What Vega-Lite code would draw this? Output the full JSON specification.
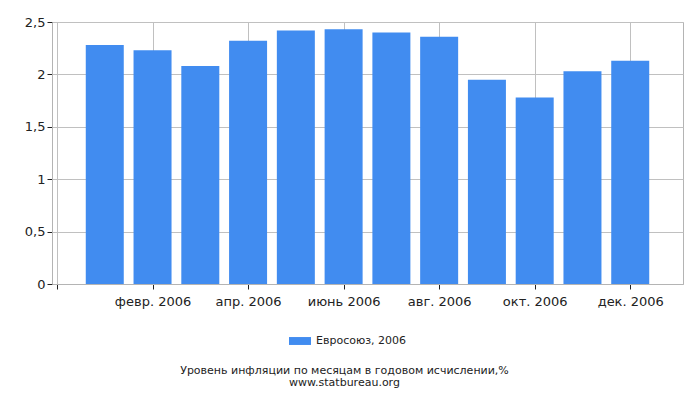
{
  "$schema": "https://vega.github.io/schema/vega-lite/v6.json",
  "width": 631,
  "height": 262,
  "autosize": "none",
  "padding": {"left": 52, "top": 22, "right": 17, "bottom": 116},
  "background": "white",
  "config": {
    "font": "DejaVu Sans",
    "view": {"stroke": "#b4b4b4", "strokeWidth": 1},
    "axis": {
      "labelFont": "DejaVu Sans",
      "labelFontSize": 13,
      "labelColor": "#222222",
      "gridColor": "#c0c0c0",
      "gridOpacity": 1,
      "domainColor": "#b4b4b4",
      "tickColor": "#222222",
      "tickSize": 5,
      "title": null
    }
  },
  "title": {
    "text": ["Уровень инфляции по месяцам в годовом исчислении,%", "www.statbureau.org"],
    "orient": "bottom",
    "anchor": "middle",
    "frame": "group",
    "dx": -23,
    "offset": 19,
    "font": "DejaVu Sans",
    "fontSize": 11,
    "fontWeight": "normal",
    "color": "#222222",
    "lineHeight": 12
  },
  "data": {
    "values": [
      {"month": 1, "value": 2.28},
      {"month": 2, "value": 2.23},
      {"month": 3, "value": 2.08},
      {"month": 4, "value": 2.32},
      {"month": 5, "value": 2.42},
      {"month": 6, "value": 2.43},
      {"month": 7, "value": 2.40},
      {"month": 8, "value": 2.36},
      {"month": 9, "value": 1.95},
      {"month": 10, "value": 1.78},
      {"month": 11, "value": 2.03},
      {"month": 12, "value": 2.13}
    ]
  },
  "mark": {"type": "bar", "size": 38},
  "encoding": {
    "x": {
      "field": "month",
      "type": "quantitative",
      "scale": {"domain": [0, 13], "nice": false, "zero": false},
      "axis": {
        "values": [0, 2, 4, 6, 8, 10, 12],
        "labelExpr": "['', 'янв. 2006', 'февр. 2006', 'март 2006', 'апр. 2006', 'май 2006', 'июнь 2006', 'июль 2006', 'авг. 2006', 'сент. 2006', 'окт. 2006', 'нояб. 2006', 'дек. 2006'][datum.value]",
        "labelPadding": 6,
        "labelFlush": false
      }
    },
    "y": {
      "field": "value",
      "type": "quantitative",
      "scale": {"domain": [0, 2.5], "nice": false},
      "axis": {
        "values": [0, 0.5, 1, 1.5, 2, 2.5],
        "labelExpr": "replace(toString(datum.value), '.', ',')",
        "labelPadding": 2
      }
    },
    "color": {
      "datum": "Евросоюз, 2006",
      "type": "nominal",
      "scale": {"range": ["#418CF0"]},
      "legend": {
        "title": null,
        "orient": "none",
        "legendX": 237,
        "legendY": 308,
        "symbolType": "M-1,-0.36L1,-0.36L1,0.36L-1,0.36Z",
        "symbolSize": 484,
        "symbolStrokeWidth": 0,
        "labelFont": "DejaVu Sans",
        "labelFontSize": 11,
        "labelColor": "#222222",
        "labelOffset": 5
      }
    }
  }
}
